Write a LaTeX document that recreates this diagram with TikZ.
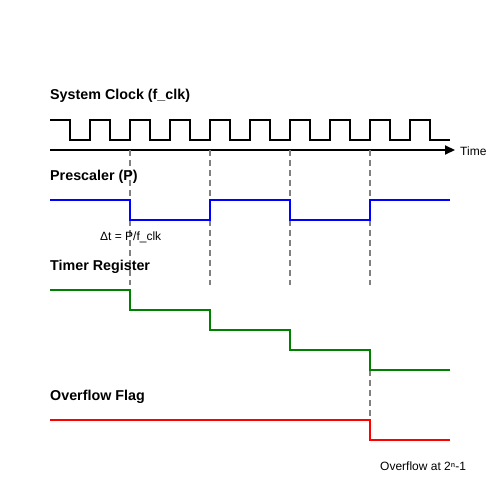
\documentclass[tikz,border=0pt]{standalone}
\usepackage{fontspec}
\setmainfont{Liberation Sans}
\usetikzlibrary{arrows.meta}
\tikzset{
  signal/.style={line width=2pt},
  marker/.style={gray, line width=2pt, dash pattern=on 6pt off 4pt},
  title/.style={anchor=base west, inner sep=0pt, font=\fontsize{14.3}{16}\selectfont\bfseries},
  note/.style={anchor=base west, inner sep=0pt, font=\fontsize{12}{14}\selectfont}
}
\begin{document}
\begin{tikzpicture}[x=1pt, y=-1pt]
  \useasboundingbox (0,0) rectangle (500,500);
  % clock
  \draw[signal] (50,120) -- (70,120)
    \foreach \t in {70,110,...,390} { -- (\t,120) -- (\t,140) -- (\t+20,140) -- (\t+20,120) }
    -- (430,120) -- (430,140) -- (450,140);
  \draw[line width=2pt, -{Triangle[length=10pt,width=9pt]}] (50,150) -- (455,150);
  % edges
  \foreach \x in {130,210,290,370} {
    \draw[marker] (\x,150) -- (\x,285);
  }
  \draw[marker] (370,350) -- (370,420);
  % prescaler
  \draw[signal, blue] (50,200) -- (130,200) -- (130,220) -- (210,220) -- (210,200)
    -- (290,200) -- (290,220) -- (370,220) -- (370,200) -- (450,200);
  % timer
  \draw[signal, green!50!black] (50,290)
    \foreach \a/\b in {130/310, 210/330, 290/350, 370/370} { -- (\a,\b-20) -- (\a,\b) }
    -- (450,370);
  % overflow
  \draw[signal, red] (50,420) -- (370,420) -- (370,440) -- (450,440);
  \node[title] (clk) at (50,100) {System Clock (f\_clk)};
  \node[title] (pre) at (50,180) {Prescaler (P)};
  \node[title] (tmr) at (50,270) {Timer Register};
  \node[title] (ovf) at (50,400) {Overflow Flag};
  \node[note] (time) at (460,155) {Time};
  \node[note] (dt) at (100,240) {Δt = P/f\_clk};
  \node[note] (top) at (380,470) {Overflow at 2ⁿ-1};
\end{tikzpicture}
\end{document}
